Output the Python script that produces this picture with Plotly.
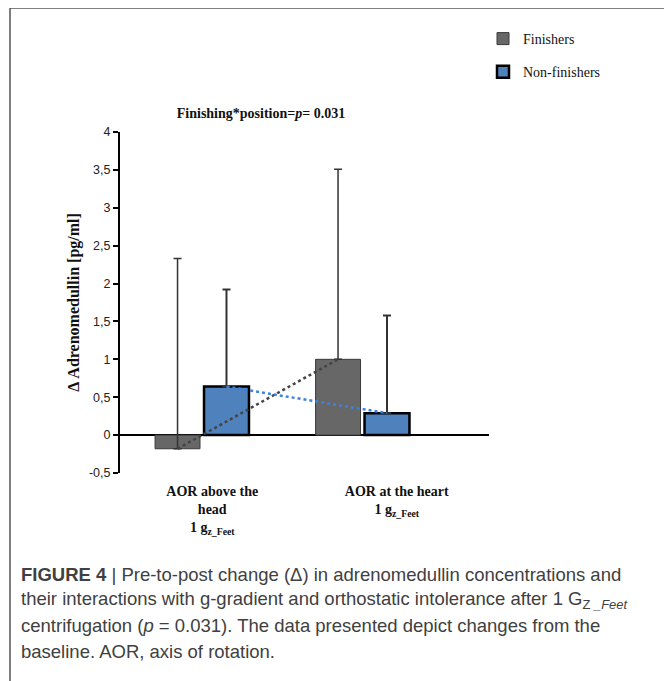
import plotly.graph_objects as go

# ---------------- data ----------------
categories = ["AOR above the head", "AOR at the heart"]
tick_labels = ["<b>AOR above the<br>head<br>1 g<sub>z_Feet</sub></b>",
               "<b>AOR at the heart<br>1 g<sub>z_Feet</sub></b>"]
finishers = [-0.18, 1.00]
finishers_err = [2.51, 2.51]
nonfinishers = [0.64, 0.29]
nonfinishers_err = [1.28, 1.29]
y_tickvals = [4, 3.5, 3, 2.5, 2, 1.5, 1, 0.5, 0, -0.5]
y_ticktext = ["4", "3,5", "3", "2,5", "2", "1,5", "1", "0,5", "0", "-0,5"]
caption_lines = [
    "<b>FIGURE 4</b> | Pre-to-post change (Δ) in adrenomedullin concentrations and",
    "their interactions with g-gradient and orthostatic intolerance after 1 G<sub>Z <i>_Feet</i></sub>",
    "centrifugation (<i>p</i> = 0.031). The data presented depict changes from the",
    "baseline. AOR, axis of rotation.",
]

# ---------------- layout constants ----------------
OFF = 8                      # page body margin of the browser
W, H = 672 - OFF, 681 - OFF
L, R, T, B = 120 - OFF, 489 - OFF, 132 - OFF, 473 - OFF   # plot area in figure pixels
X_RANGE = [-0.511, 1.788]
Y_RANGE = [-0.5, 4]
BAR_W = 0.28
GAP = 0.025
CAPTION_TOP = 574
CAPTION_STEP = 25.7

def px_x(p):
    """reference-page pixel -> paper x"""
    return (p - OFF - L) / (R - L)

def px_y(p):
    """reference-page pixel -> paper y"""
    return (B - (p - OFF)) / (B - T)

idx = list(range(len(categories)))
fin_off = -BAR_W - GAP / 2
non_off = GAP / 2
fin_centers = [i + fin_off + BAR_W / 2 for i in idx]
non_centers = [i + non_off + BAR_W / 2 for i in idx]
slot = (X_RANGE[1] - X_RANGE[0]) / len(categories)
label_pos = [X_RANGE[0] + (i + 0.5) * slot for i in idx]

fig = go.Figure()
fig.add_trace(go.Bar(
    x=idx, y=finishers, name="Finishers", width=BAR_W, offset=fin_off,
    marker=dict(color="#676767", line=dict(color="#3a3a3a", width=1)),
    error_y=dict(type="data", symmetric=False, array=finishers_err,
                 arrayminus=[0] * len(finishers), color="#333333",
                 thickness=1.5, width=4),
    legendgroup="a",
))
fig.add_trace(go.Bar(
    x=idx, y=nonfinishers, name="Non-finishers", width=BAR_W, offset=non_off,
    marker=dict(color="#4f81bd", line=dict(color="#000000", width=2.5)),
    error_y=dict(type="data", symmetric=False, array=nonfinishers_err,
                 arrayminus=[0] * len(nonfinishers), color="#333333",
                 thickness=2, width=4),
    legendgroup="b",
))
fig.add_trace(go.Scatter(
    x=fin_centers, y=finishers, mode="lines", showlegend=False,
    line=dict(color="#444444", width=2.5, dash="dot"), hoverinfo="skip",
))
fig.add_trace(go.Scatter(
    x=non_centers, y=nonfinishers, mode="lines", showlegend=False,
    line=dict(color="#3b82e0", width=2.5, dash="dot"), hoverinfo="skip",
))

annotations = [dict(text=line, xref="paper", yref="paper",
                    x=px_x(19), y=px_y(CAPTION_TOP + k * CAPTION_STEP),
                    xanchor="left", yanchor="middle", align="left", showarrow=False,
                    font=dict(family="Liberation Sans", size=18.5, color="#404040"))
               for k, line in enumerate(caption_lines)]

fig.update_layout(
    width=W, height=H,
    margin=dict(l=L, r=W - R, t=T, b=H - B),
    paper_bgcolor="white", plot_bgcolor="white",
    barmode="overlay",
    title=dict(text="<b>Finishing*position=<i>p</i>= 0.031</b>",
               x=px_x(261), xref="paper", xanchor="center",
               y=1 - (113 - OFF) / H, yanchor="middle",
               font=dict(family="Liberation Serif", size=14, color="#111111")),
    xaxis=dict(range=X_RANGE, tickmode="array", tickvals=label_pos,
               ticktext=tick_labels, showline=False, showgrid=False,
               zeroline=False, ticks="", ticklabelstandoff=8,
               tickfont=dict(family="Liberation Serif", size=14, color="#111111")),
    yaxis=dict(range=Y_RANGE, tickmode="array", tickvals=y_tickvals,
               ticktext=y_ticktext, showgrid=False, showline=True,
               linecolor="#000000", linewidth=2, ticks="outside", ticklen=5,
               tickwidth=1.5, tickcolor="#000000",
               zeroline=True, zerolinecolor="#000000", zerolinewidth=1.5,
               tickfont=dict(family="Liberation Sans", size=12.5, color="#222222"),
               title=dict(text="<b>Δ Adrenomedullin [pg/ml]</b>", standoff=5,
                          font=dict(family="Liberation Serif", size=16, color="#111111"))),
    legend=dict(x=px_x(483), y=px_y(23), xanchor="left", yanchor="top",
                xref="paper", yref="paper", traceorder="grouped",
                tracegroupgap=12, bgcolor="rgba(0,0,0,0)",
                font=dict(family="Liberation Serif", size=14, color="#111111")),
    showlegend=True,
    shapes=[dict(type="rect", xref="paper", yref="paper",
                 x0=px_x(10), x1=px_x(668), y0=px_y(720), y1=px_y(8),
                 line=dict(color="#555555", width=1.5), fillcolor="rgba(0,0,0,0)",
                 layer="below")],
    annotations=annotations,
)

fig.write_html("out.html")
